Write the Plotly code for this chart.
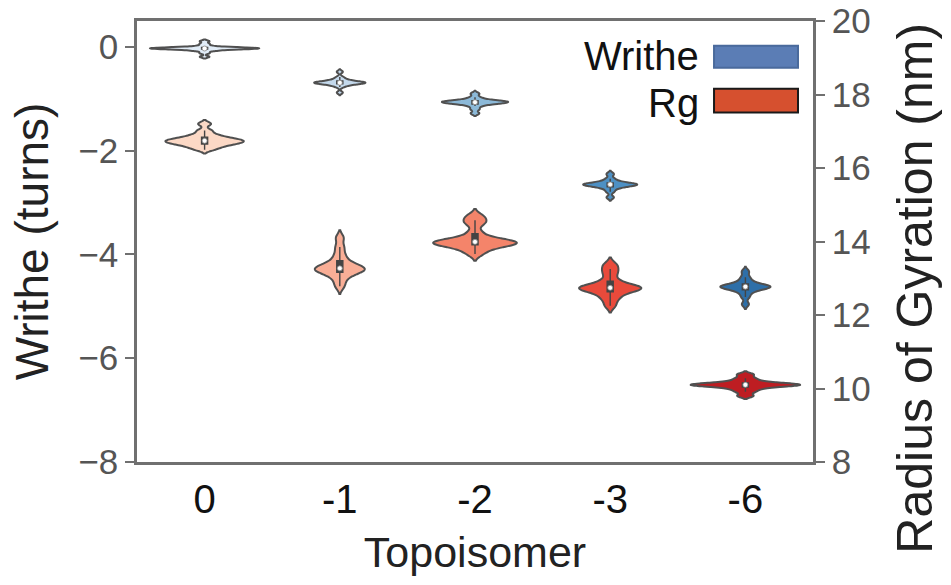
import numpy as np
import plotly.graph_objects as go
from plotly.subplots import make_subplots

# ---- data ----
topoisomers = ["0", "-1", "-2", "-3", "-6"]

writhe_0 = [-0.19, -0.12, -0.08, -0.06, -0.05, -0.04, -0.04, -0.03, -0.03, -0.03,
            -0.03, -0.03, -0.02, -0.02, -0.02, -0.01, -0.01, 0.00, 0.02, 0.06, 0.11]
writhe_1 = [-0.48, -0.58, -0.62, -0.64, -0.66, -0.67, -0.68, -0.68, -0.69, -0.69,
            -0.70, -0.70, -0.71, -0.72, -0.74, -0.77, -0.88]
writhe_2 = [-0.90, -0.97, -1.01, -1.03, -1.04, -1.05, -1.06, -1.06, -1.07, -1.07,
            -1.08, -1.09, -1.11, -1.14, -1.20, -1.28]
writhe_3 = [-2.45, -2.54, -2.59, -2.62, -2.63, -2.64, -2.65, -2.65, -2.66, -2.67,
            -2.68, -2.70, -2.73, -2.79, -2.90]
writhe_6 = [-4.33, -4.44, -4.51, -4.56, -4.59, -4.61, -4.62, -4.62, -4.63, -4.64,
            -4.66, -4.69, -4.74, -4.82, -4.96]

rg_0 = [17.20, 17.02, 16.92, 16.86, 16.82, 16.79, 16.77, 16.75, 16.73, 16.71,
        16.69, 16.67, 16.64, 16.61, 16.56, 16.50]
rg_1 = [14.10, 13.85, 13.65, 13.50, 13.40, 13.34, 13.30, 13.27, 13.24, 13.22,
        13.19, 13.15, 13.08, 12.95, 12.78]
rg_2 = [14.70, 14.58, 14.48, 14.25, 14.10, 14.04, 14.01, 13.99, 13.97, 13.95,
        13.93, 13.90, 13.86, 13.78, 13.66]
rg_3 = [13.38, 13.25, 13.12, 12.95, 12.84, 12.79, 12.76, 12.74, 12.72, 12.70,
        12.67, 12.62, 12.52, 12.42, 12.25]
rg_6 = [10.38, 10.28, 10.21, 10.16, 10.13, 10.12, 10.11, 10.10, 10.09, 10.08,
        10.06, 10.03, 9.98, 9.91, 9.80]

writhe_data = [writhe_0, writhe_1, writhe_2, writhe_3, writhe_6]
rg_data = [rg_0, rg_1, rg_2, rg_3, rg_6]

# ---- styles ----
writhe_colors = ["#e1ecf7", "#c4d9ec", "#8cb9d8", "#4d90c4", "#2e6fa8"]
rg_colors = ["#fcd9c6", "#f9ae96", "#f4846a", "#e94a3b", "#be1d22"]
writhe_widths = [0.81, 0.38, 0.49, 0.40, 0.37]
rg_widths = [0.58, 0.37, 0.62, 0.46, 0.81]
outline = "#505050"
FONT = "Liberation Sans, Arial, sans-serif"

fig = make_subplots(specs=[[{"secondary_y": True}]])


def add_violins(data, colors, widths, secondary):
    for cat, vals, col, w in zip(topoisomers, data, colors, widths):
        arr = np.asarray(vals)
        bw = 0.55 * arr.std() * len(arr) ** -0.2
        fig.add_trace(go.Violin(
            x=[cat] * len(vals), y=vals, name=cat,
            width=w, scalemode="width", fillcolor=col, bandwidth=bw,
            line=dict(color=outline, width=2), opacity=1,
            points=False, meanline_visible=False,
            box=dict(visible=True, width=0.045 / w, fillcolor="#444444",
                     line=dict(color="#444444", width=1.4)),
            showlegend=False, hoverinfo="skip",
        ), secondary_y=secondary)
        fig.add_trace(go.Scatter(
            x=[cat], y=[float(np.median(vals))], mode="markers",
            marker=dict(color="white", size=5, line=dict(color="#888", width=0.8)),
            showlegend=False, hoverinfo="skip",
        ), secondary_y=secondary)


add_violins(writhe_data, writhe_colors, writhe_widths, False)
add_violins(rg_data, rg_colors, rg_widths, True)

axis_col = "#707070"
fig.update_layout(
    width=951, height=585,
    margin=dict(l=137, r=138, t=21, b=123),
    paper_bgcolor="white", plot_bgcolor="white",
    violinmode="overlay",
    font=dict(family=FONT, color="#222"),
    xaxis=dict(domain=[0, 1], type="category", categoryorder="array",
               categoryarray=topoisomers,
               range=[-0.5, 4.5], showline=True, mirror=True, linecolor=axis_col,
               linewidth=2.5, ticks="", showgrid=False, zeroline=False, automargin=False,
               tickfont=dict(size=40, color="#111", family=FONT),
               title=dict(text="Topoisomer", font=dict(size=43, color="#222", family=FONT),
                          standoff=18)),
    yaxis=dict(range=[-8, 0.5], tickvals=[0, -2, -4, -6, -8], showline=True,
               mirror=True, linecolor=axis_col, linewidth=2.5, ticks="outside",
               ticklen=9, tickwidth=2, tickcolor=axis_col, showgrid=False,
               zeroline=False, automargin=False,
               tickfont=dict(size=35, color="#555", family=FONT),
               title=dict(text="Writhe (turns)", font=dict(size=46, color="#222", family=FONT),
                          standoff=16)),
    yaxis2=dict(range=[8, 20], tickvals=[8, 10, 12, 14, 16, 18, 20], showline=True,
                linecolor=axis_col, linewidth=2.5, ticks="outside", ticklen=9,
                tickwidth=2, tickcolor=axis_col, showgrid=False, zeroline=False,
                automargin=False, tickfont=dict(size=35, color="#555", family=FONT)),
)

# right axis title (placed as in the reference)
fig.add_annotation(text="Radius of Gyration (nm)", xref="paper", yref="paper",
                   x=1.195, y=0.395, textangle=-90, showarrow=False,
                   font=dict(size=50, color="#222", family=FONT))

# custom legend: label text + colour patch
legend_items = [("Writhe", "#5b7db5", "#4a6a9c", 0.920, 0.9436, 0.8939),
                ("Rg", "#d6502f", "#1a1a1a", 0.815, 0.8465, 0.7923)]
for label, fill, edge, ty, y1, y0 in legend_items:
    fig.add_annotation(text=label, xref="paper", yref="paper", x=0.834, y=ty,
                       xanchor="right", yanchor="middle", showarrow=False,
                       font=dict(size=40, color="#111", family=FONT))
    fig.add_shape(type="rect", xref="paper", yref="paper", x0=0.8536, x1=0.9778,
                  y0=y0, y1=y1, fillcolor=fill, line=dict(color=edge, width=2))

fig.write_html("out.html")
